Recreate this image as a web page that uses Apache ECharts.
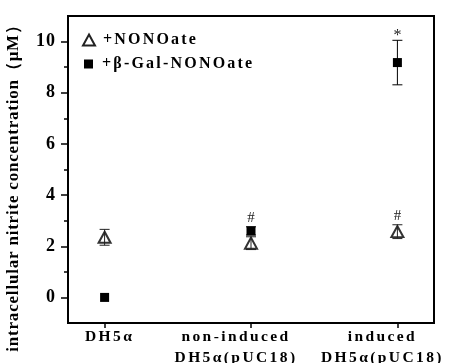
<!DOCTYPE html>
<html>
<head>
<meta charset="utf-8">
<script src="https://cdn.jsdelivr.net/npm/echarts@6/dist/echarts.min.js"></script>
<style>
html,body{margin:0;padding:0;background:#fff;}
#chart{width:449px;height:363px;}
</style>
</head>
<body>
<div id="chart"></div>
<script>
const categories = ['DH5α', 'non-induced\nDH5α(pUC18)', 'induced\nDH5α(pUC18)'];
const nonoMean = [2.35, 2.12, 2.57];
const nonoErr = [0.31, 0.25, 0.27];
const galMean = [0, 2.6, 9.18];
const galErr = [0, 0.16, 0.87];
const nonoMarks = ['', '', '#'];
const galMarks = ['', '#', '*'];
const yMajorTicks = [0, 2, 4, 6, 8, 10];
const yMinorTicks = [1, 3, 5, 7, 9];
const xPositions = [0, 1, 2];
const seriesNames = ['+NONOate', '+β-Gal-NONOate'];
const yName = 'intracellular nitrite concentration（μM）';

const SERIF = '"Liberation Serif", "Times New Roman", serif';

// letter spacing for the widely tracked bold labels of the original figure
(function () {
  const proto = CanvasRenderingContext2D.prototype;
  const orig = proto.fillText;
  proto.fillText = function (t, x, y, w) {
    const m = /(\d+(?:\.\d+)?)px/.exec(this.font);
    let ls = 0;
    if (m && /bold|700/.test(this.font)) {
      const s = +m[1];
      if (s === 16) ls = 2.2;
      else if (s === 15.5) {
        ls = 2.4;
        // keep tracked, left-placed rich tokens centred where they were laid out
        if (this.textAlign === 'left' || this.textAlign === 'start') {
          x -= (String(t).length - 1) * ls / 2;
        }
      }
      else if (s === 17) ls = 0.8;
      else if (s === 18) ls = 1;
    }
    if ('letterSpacing' in this) this.letterSpacing = ls + 'px';
    return w === undefined ? orig.call(this, t, x, y) : orig.call(this, t, x, y, w);
  };
})();

function errData(means, errs) {
  return means.map((m, i) => [xPositions[i], m, errs[i]]);
}

function renderErr(color, marks) {
  return function (params, api) {
    const x = api.value(0), m = api.value(1), e = api.value(2);
    const mark = marks[params.dataIndex];
    const top = api.coord([x, m + e]);
    const bot = api.coord([x, m - e]);
    const children = [];
    if (e > 0) {
      const w = 5;
      children.push({type: 'line', shape: {x1: top[0], y1: top[1], x2: bot[0], y2: bot[1]}, style: {stroke: color, lineWidth: 1}});
      children.push({type: 'line', shape: {x1: top[0] - w, y1: top[1], x2: top[0] + w, y2: top[1]}, style: {stroke: color, lineWidth: 1}});
      children.push({type: 'line', shape: {x1: bot[0] - w, y1: bot[1], x2: bot[0] + w, y2: bot[1]}, style: {stroke: color, lineWidth: 1}});
    }
    if (mark) {
      const star = mark === '*';
      children.push({type: 'text', x: top[0], y: top[1] + (star ? 3 : -1), style: {
        text: mark, textAlign: 'center', textVerticalAlign: 'bottom',
        fontSize: star ? 16 : 15, fontFamily: SERIF, fill: '#222'
      }});
    }
    return {type: 'group', children: children};
  };
}

const chart = echarts.init(document.getElementById('chart'), null, {renderer: 'canvas'});
chart.setOption({
  animation: false,
  backgroundColor: '#fff',
  grid: {left: 68, right: 15, top: 16, bottom: 40, containLabel: false, outerBoundsMode: 'none',
    show: true, borderColor: '#000', borderWidth: 2, backgroundColor: 'transparent'},
  xAxis: {
    type: 'value', min: -0.25, max: 2.25,
    splitLine: {show: false},
    axisLine: {show: true, onZero: false, lineStyle: {color: '#000', width: 2}},
    axisTick: {show: true, customValues: xPositions, length: 5, inside: false, lineStyle: {color: '#000', width: 1.5}},
    axisLabel: {
      customValues: xPositions, margin: 3, color: '#000',
      showMinLabel: true, showMaxLabel: true, hideOverlap: false,
      formatter: function (v) {
        const i = Math.round(v);
        const lines = categories[i].split('\n');
        const key = ['a', 'b', 'c'][i];
        return lines.map(l => '{' + key + '|' + l + '}').join('\n');
      },
      rich: {
        a: {fontSize: 15.5, fontWeight: 'bold', fontFamily: SERIF, color: '#000', lineHeight: 21, padding: [0, 0, 0, 10]},
        b: {fontSize: 15.5, fontWeight: 'bold', fontFamily: SERIF, color: '#000', lineHeight: 21, padding: [0, 30, 0, 0]},
        c: {fontSize: 15.5, fontWeight: 'bold', fontFamily: SERIF, color: '#000', lineHeight: 21, padding: [0, 30, 0, 0]}
      }
    }
  },
  yAxis: [{
    type: 'value', min: -1, max: 11, position: 'left',
    splitLine: {show: false},
    axisLine: {show: true, onZero: false, lineStyle: {color: '#000', width: 2}},
    axisTick: {show: true, customValues: yMajorTicks, length: 7, lineStyle: {color: '#000', width: 1.5}},
    axisLabel: {customValues: yMajorTicks, margin: 12, fontSize: 18, fontWeight: 'bold', fontFamily: SERIF, color: '#000'}
  }, {
    type: 'value', min: -1, max: 11, position: 'left', offset: 0,
    splitLine: {show: false},
    axisLine: {show: false, onZero: false},
    axisTick: {show: true, customValues: yMinorTicks, length: 4, lineStyle: {color: '#000', width: 1.5}},
    axisLabel: {show: false}
  }],
  legend: [{
    data: [{name: seriesNames[0], icon: 'emptyTriangle'}],
    orient: 'vertical', left: 82, top: 32, padding: 0, itemWidth: 12, itemHeight: 11,
    itemStyle: {borderWidth: 1, color: '#222'},
    textStyle: {fontSize: 16, fontWeight: 'bold', fontFamily: SERIF, color: '#000', padding: [0, 0, 0, 3]}
  }, {
    data: [{name: seriesNames[1], icon: 'rect'}],
    orient: 'vertical', left: 84, top: 56, padding: 0, itemWidth: 9, itemHeight: 9,
    itemStyle: {color: '#000'},
    textStyle: {fontSize: 16, fontWeight: 'bold', fontFamily: SERIF, color: '#000', padding: [0, 0, 0, 4]}
  }],
  graphic: [{
    type: 'text', x: 14, y: 184, rotation: Math.PI / 2,
    style: {text: yName, textAlign: 'center', textVerticalAlign: 'middle', fontSize: 17, fontWeight: 'bold', fontFamily: SERIF, fill: '#000'}
  }],
  series: [{
    name: seriesNames[0], type: 'scatter', yAxisIndex: 0,
    symbol: 'emptyTriangle', symbolSize: [12, 11],
    itemStyle: {color: '#333', borderWidth: 1, opacity: 1},
    data: nonoMean.map((m, i) => [xPositions[i], m]), z: 2
  }, {
    name: seriesNames[1], type: 'scatter', yAxisIndex: 0,
    symbol: 'rect', symbolSize: 9,
    itemStyle: {color: '#000', opacity: 1},
    data: galMean.map((m, i) => [xPositions[i], m]), z: 3
  }, {
    name: 'nonoErr', type: 'custom', yAxisIndex: 0,
    renderItem: renderErr('#222', nonoMarks), data: errData(nonoMean, nonoErr), z: 4, silent: true
  }, {
    name: 'galErr', type: 'custom', yAxisIndex: 0,
    renderItem: renderErr('#000', galMarks), data: errData(galMean, galErr), z: 4, silent: true
  }]
});
</script>
</body>
</html>
